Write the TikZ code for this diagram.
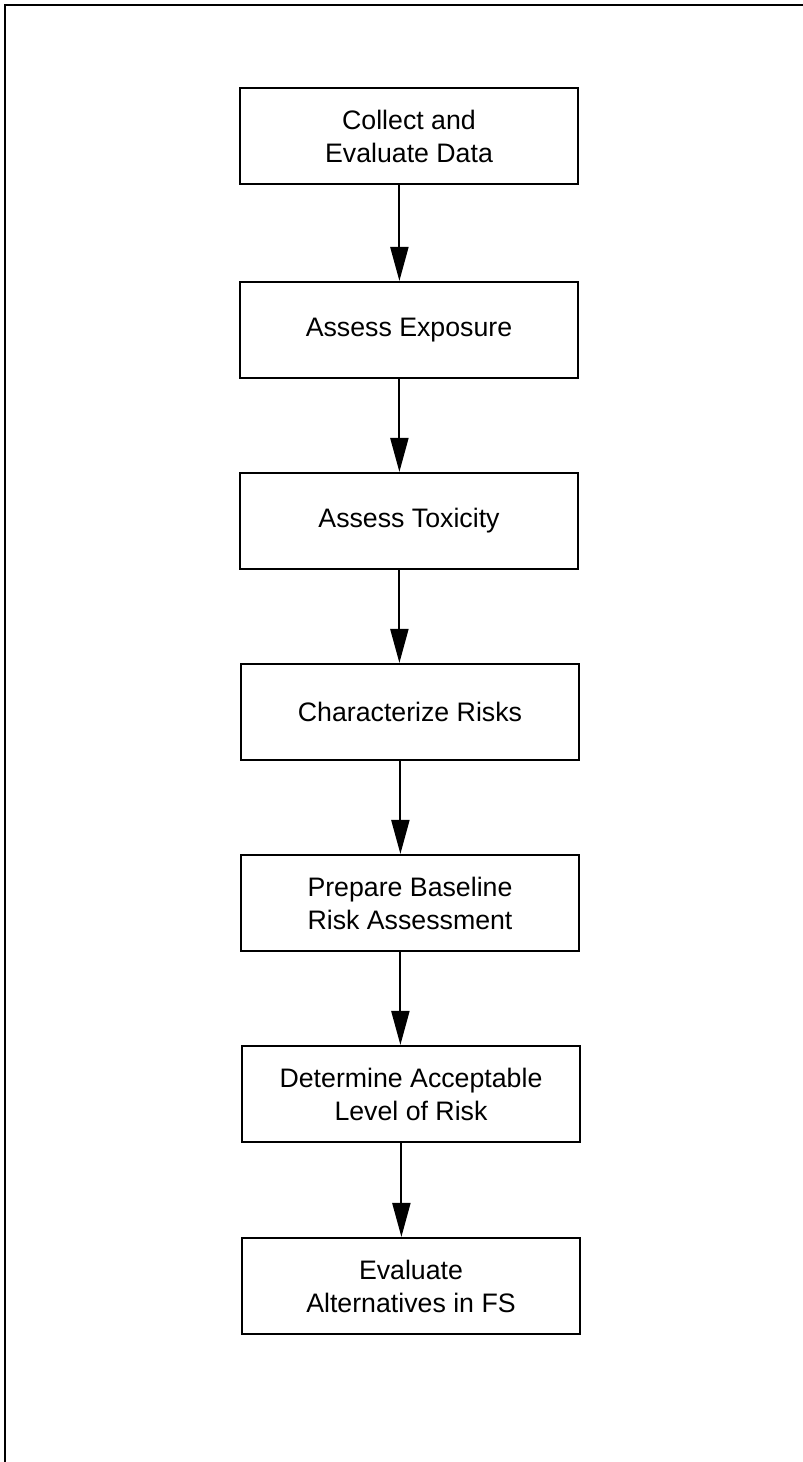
\documentclass[tikz,border=0pt]{standalone}
\usepackage{fontspec}
\setmainfont{Liberation Sans}
\usetikzlibrary{arrows.meta}
\tikzset{
  frame/.style={line width=2pt, black},
  step box/.style={draw=black, line width=1.5pt, minimum width=8.45cm, minimum height=2.4cm,
    align=center, inner sep=0pt, font=\fontsize{19}{23.5}\selectfont},
  link/.style={line width=1.5pt, arrows={-{Triangle[length=0.85cm, width=0.45cm]}}}
}

\begin{document}
\begin{tikzpicture}[x=0.025cm, y=-0.025cm]
  \useasboundingbox (0,0) rectangle (803,1462);

  \coordinate (frame top right) at (803,5);
  \coordinate (frame corner) at (5,5);
  \coordinate (frame bottom left) at (5,1462);
  \draw[frame] (frame top right) -- (frame corner) -- (frame bottom left);

  \node[step box] at (409,136) (collect) {Collect and\\Evaluate Data};
  \node[step box] at (409,330) (exposure) {Assess Exposure};
  \node[step box] at (409,521) (toxicity) {Assess Toxicity};
  \node[step box] at (410,712) (risks) {Characterize Risks};
  \node[step box] at (410,903) (baseline) {Prepare Baseline\\Risk Assessment};
  \node[step box] at (411,1094) (acceptable) {Determine Acceptable\\Level of Risk};
  \node[step box] at (411,1286) (alternatives) {Evaluate\\Alternatives in FS};

  \draw[link] ([xshift=-0.24cm]collect.south) -- ([xshift=-0.24cm]exposure.north);
  \draw[link] ([xshift=-0.24cm]exposure.south) -- ([xshift=-0.24cm]toxicity.north);
  \draw[link] ([xshift=-0.24cm]toxicity.south) -- ([xshift=-0.24cm]toxicity.south |- risks.north);
  \draw[link] ([xshift=-0.24cm]risks.south) -- ([xshift=-0.24cm]baseline.north);
  \draw[link] ([xshift=-0.24cm]baseline.south) -- ([xshift=-0.24cm]baseline.south |- acceptable.north);
  \draw[link] ([xshift=-0.24cm]acceptable.south) -- ([xshift=-0.24cm]alternatives.north);
\end{tikzpicture}
\end{document}
